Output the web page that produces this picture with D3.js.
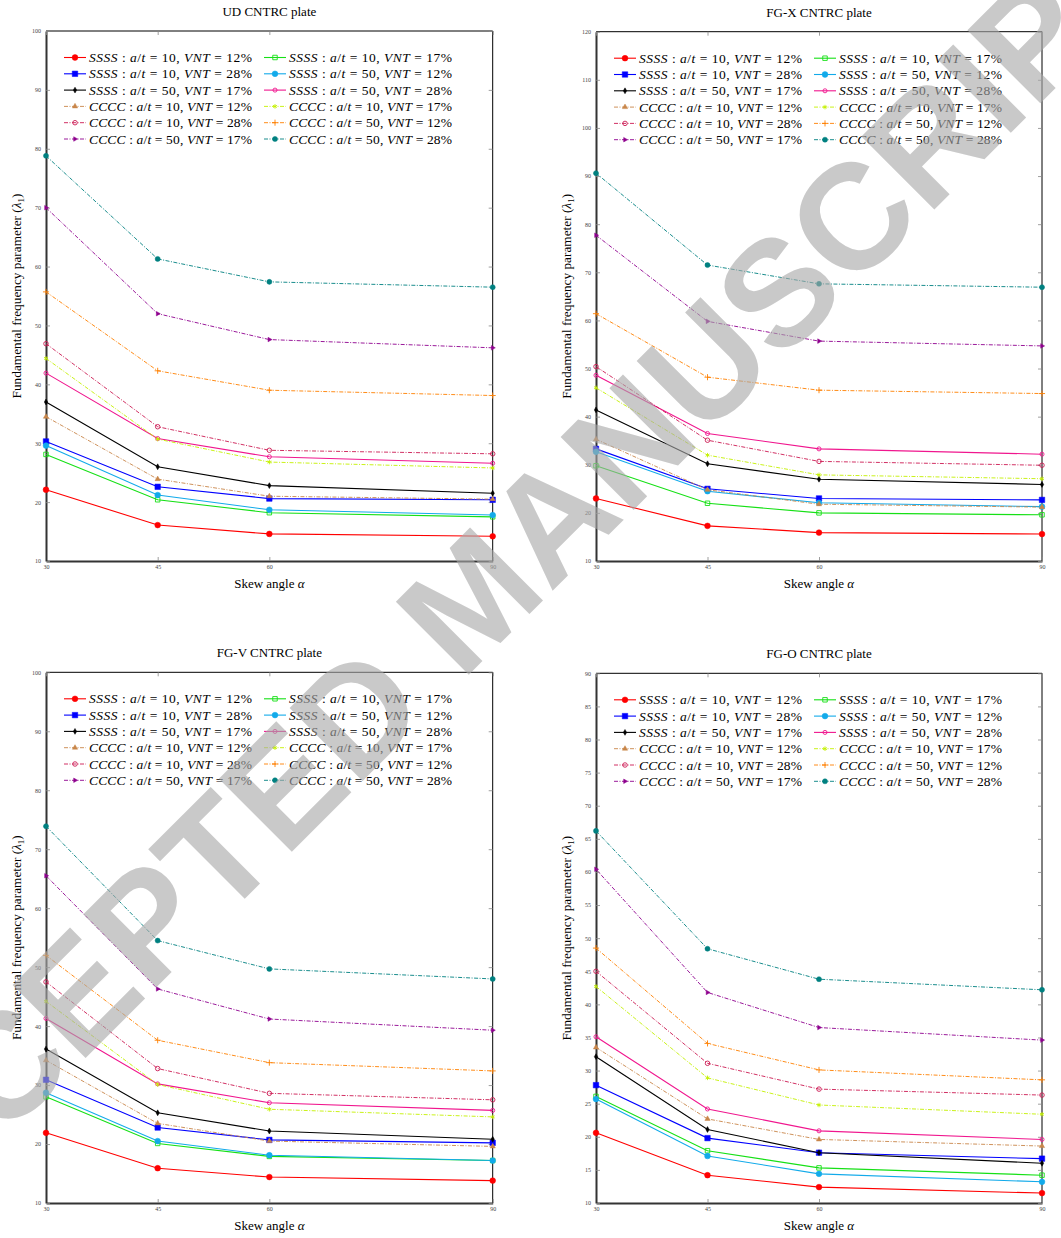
<!DOCTYPE html>
<html>
<head>
<meta charset="utf-8">
<script src="https://cdn.jsdelivr.net/npm/d3@7"></script>
<style>
body { margin: 0; background: #fff; }
svg { display: block; }
</style>
</head>
<body>
<svg id="chart"></svg>
<script>

// skew angles on the x axis
var skewAngles = [30, 45, 60, 90]

// the 12 cases (legend order, row by row)
var boundary = ["SSSS", "SSSS", "SSSS", "SSSS", "SSSS", "SSSS", "CCCC", "CCCC", "CCCC", "CCCC", "CCCC", "CCCC"]
var aspectRatio = ["10", "10", "10", "50", "50", "50", "10", "10", "10", "50", "50", "50"]
var vntLabels = ["12%", "17%", "28%", "12%", "17%", "28%", "12%", "17%", "28%", "12%", "17%", "28%"]

var panelTitles = ["UD CNTRC plate", "FG-X CNTRC plate", "FG-V CNTRC plate", "FG-O CNTRC plate"]

// fundamental frequency parameter, one row per case, columns = skewAngles
var udValues = [
    [22.1, 16.1, 14.6, 14.2],
    [28.1, 20.4, 18.2, 17.5],
    [30.3, 22.6, 20.6, 20.4],
    [29.6, 21.2, 18.7, 17.8],
    [37.0, 26.0, 22.8, 21.5],
    [41.9, 30.8, 27.7, 26.6],
    [34.5, 23.9, 21.0, 20.5],
    [44.4, 30.7, 26.8, 25.8],
    [46.9, 32.8, 28.8, 28.2],
    [55.7, 42.3, 39.0, 38.1],
    [70.0, 52.0, 47.6, 46.2],
    [78.8, 61.3, 57.4, 56.5]
]
var fgxValues = [
    [23.0, 17.3, 15.9, 15.6],
    [29.8, 22.0, 20.0, 19.6],
    [33.3, 25.0, 23.0, 22.7],
    [32.7, 24.5, 22.1, 21.3],
    [41.4, 30.2, 27.0, 25.9],
    [48.6, 36.5, 33.3, 32.2],
    [35.3, 24.8, 21.8, 21.2],
    [46.0, 32.0, 27.9, 27.1],
    [50.4, 35.1, 30.7, 29.9],
    [61.4, 48.2, 45.5, 44.8],
    [77.7, 59.8, 55.7, 54.7],
    [90.6, 71.5, 67.6, 66.9]
]
var fgvValues = [
    [21.9, 15.9, 14.4, 13.8],
    [28.0, 20.1, 17.9, 17.2],
    [30.9, 22.8, 20.7, 20.2],
    [28.7, 20.5, 18.1, 17.2],
    [36.1, 25.3, 22.2, 20.8],
    [41.3, 30.2, 27.0, 25.7],
    [34.2, 23.5, 20.5, 19.6],
    [44.2, 30.1, 25.9, 24.6],
    [47.5, 32.8, 28.6, 27.5],
    [52.0, 37.6, 33.8, 32.4],
    [65.5, 46.3, 41.2, 39.3],
    [73.9, 54.5, 49.7, 48.0]
]
var fgoValues = [
    [20.6, 14.2, 12.4, 11.5],
    [26.1, 17.9, 15.3, 14.2],
    [27.8, 19.8, 17.6, 16.7],
    [25.7, 17.1, 14.4, 13.2],
    [32.1, 21.1, 17.6, 16.0],
    [35.1, 24.2, 20.9, 19.6],
    [33.5, 22.7, 19.6, 18.6],
    [42.7, 28.9, 24.8, 23.4],
    [45.0, 31.1, 27.2, 26.3],
    [48.5, 34.1, 30.1, 28.6],
    [60.4, 41.8, 36.5, 34.6],
    [66.2, 48.4, 43.8, 42.2]
]

// y tick labels per panel
var udTicks = [10, 20, 30, 40, 50, 60, 70, 80, 90, 100]
var fgxTicks = [10, 20, 30, 40, 50, 60, 70, 80, 90, 100, 110, 120]
var fgvTicks = [10, 20, 30, 40, 50, 60, 70, 80, 90, 100]
var fgoTicks = [10, 15, 20, 25, 30, 35, 40, 45, 50, 55, 60, 65, 70, 75, 80, 85, 90]

var allValues = [udValues, fgxValues, fgvValues, fgoValues]
var allTicks = [udTicks, fgxTicks, fgvTicks, fgoTicks]

// look of each case
var styles = [
    {color: "#ff0000", dash: null, sym: d3.symbolCircle, size: 26, fill: true},
    {color: "#16e016", dash: null, sym: d3.symbolSquare, size: 20, fill: false},
    {color: "#0000ff", dash: null, sym: d3.symbolSquare, size: 30, fill: true},
    {color: "#12aaea", dash: null, sym: d3.symbolCircle, size: 26, fill: true},
    {color: "#000000", dash: null, sym: d3.symbolDiamond, size: 10, fill: true},
    {color: "#f0168e", dash: null, sym: d3.symbolCircle, size: 13, fill: false},
    {color: "#c8864a", dash: "4,1.5,1,1.5", sym: d3.symbolTriangle, size: 12, fill: true},
    {color: "#c4f000", dash: "4,1.5,1,1.5", sym: d3.symbolAsterisk, size: 14, fill: false},
    {color: "#cc1a52", dash: "4,1.5,1,1.5", sym: d3.symbolCircle, size: 16, fill: false},
    {color: "#ff8000", dash: "4,1.5,1,1.5", sym: d3.symbolPlus, size: 14, fill: false},
    {color: "#8e008e", dash: "4,1.5,1,1.5", sym: d3.symbolTriangle, size: 9, fill: true, rotate: 90},
    {color: "#008080", dash: "4,1.5,1,1.5", sym: d3.symbolCircle, size: 20, fill: true}
]

var dimensions = {width: 1061, height: 1238}

var panels = [
    {left: 46, top: 31, right: 492.7, bottom: 561},
    {left: 596, top: 31.7, right: 1042, bottom: 561},
    {left: 46, top: 672.3, right: 492.7, bottom: 1203},
    {left: 596, top: 673.3, right: 1042, bottom: 1203}
]

var svg = d3.select("#chart")
    .attr("width", dimensions.width)
    .attr("height", dimensions.height)
    .style("font-family", "'Liberation Serif', 'DejaVu Serif', serif")

function drawMarker(g, s, x, y) {
    var p = g.append("path")
        .attr("d", d3.symbol().type(s.sym).size(s.size)())
        .attr("transform", "translate(" + x + "," + y + ")" + (s.rotate ? " rotate(" + s.rotate + ")" : ""))
    if (s.fill) {
        p.attr("fill", s.color).attr("stroke", s.color).attr("stroke-width", 0.5)
    } else {
        p.attr("fill", "none").attr("stroke", s.color).attr("stroke-width", 0.9)
    }
}

panels.forEach(function (pn, k) {
    var values = allValues[k]
    var ticks = allTicks[k]
    var g = svg.append("g")

    var xScale = d3.scaleLinear()
        .domain([30, 90])
        .range([pn.left, pn.right])

    var yScale = d3.scaleLinear()
        .domain([ticks[0], ticks[ticks.length - 1]])
        .range([pn.bottom, pn.top])

    // plot frame (top/right thin, left/bottom heavy)
    g.append("line").attr("x1", pn.left).attr("x2", pn.right).attr("y1", pn.top).attr("y2", pn.top)
        .attr("stroke", "#000").attr("stroke-width", 1)
    g.append("line").attr("x1", pn.right).attr("x2", pn.right).attr("y1", pn.top).attr("y2", pn.bottom)
        .attr("stroke", "#000").attr("stroke-width", 1)

    var xAxisgen = d3.axisBottom(xScale).tickValues(skewAngles).tickSizeInner(-4).tickSizeOuter(0).tickPadding(4)
    var yAxisgen = d3.axisLeft(yScale).tickValues(ticks).tickSizeInner(-4).tickSizeOuter(0).tickPadding(5)
    var topAxisgen = d3.axisTop(xScale).tickValues(skewAngles).tickSizeInner(-4).tickSizeOuter(0).tickFormat("")
    var rightAxisgen = d3.axisRight(yScale).tickValues(ticks).tickSizeInner(-4).tickSizeOuter(0).tickFormat("")

    var axes = [
        g.append("g").attr("transform", "translate(0," + pn.bottom + ")").call(xAxisgen),
        g.append("g").attr("transform", "translate(" + pn.left + ",0)").call(yAxisgen),
        g.append("g").attr("transform", "translate(0," + pn.top + ")").call(topAxisgen),
        g.append("g").attr("transform", "translate(" + pn.right + ",0)").call(rightAxisgen)
    ]
    axes.forEach(function (a, i) {
        a.selectAll(".tick line").attr("stroke", "#888").attr("stroke-width", 0.8)
        a.selectAll(".tick text")
            .attr("fill", "#444")
            .style("font-size", "6px")
            .style("font-family", "'Liberation Serif', serif")
        if (i < 2) {
            a.select(".domain").attr("stroke", "#333").attr("stroke-width", 2)
        } else {
            a.select(".domain").remove()
        }
    })

    // series
    var lineGen = d3.line()
        .x(function (d, i) { return xScale(skewAngles[i]) })
        .y(function (d) { return yScale(d) })

    values.forEach(function (row, i) {
        var s = styles[i]
        g.append("path")
            .attr("d", lineGen(row))
            .attr("fill", "none")
            .attr("stroke", s.color)
            .attr("stroke-width", s.dash ? 0.9 : 1.1)
            .attr("stroke-dasharray", s.dash)
        row.forEach(function (v, j) {
            drawMarker(g, s, xScale(skewAngles[j]), yScale(v))
        })
    })

    // legend
    var leg = g.append("g")
    boundary.forEach(function (b, i) {
        var s = styles[i]
        var lx = pn.left + 18 + (i % 2) * 200
        var ly = pn.top + 26.5 + Math.floor(i / 2) * 16.3
        leg.append("line")
            .attr("x1", lx).attr("x2", lx + 22).attr("y1", ly).attr("y2", ly)
            .attr("stroke", s.color)
            .attr("stroke-width", s.dash ? 0.9 : 1.1)
            .attr("stroke-dasharray", s.dash)
        drawMarker(leg, s, lx + 11, ly)
        var t = leg.append("text")
            .attr("x", lx + 25)
            .attr("y", ly + 4.5)
            .attr("textLength", 163)
            .attr("lengthAdjust", "spacing")
            .style("font-size", "13.5px")
        t.append("tspan").style("font-style", "italic").text(b)
        t.append("tspan").text(" : ")
        t.append("tspan").style("font-style", "italic").text("a")
        t.append("tspan").text("/")
        t.append("tspan").style("font-style", "italic").text("t")
        t.append("tspan").text(" = " + aspectRatio[i] + ", ")
        t.append("tspan").style("font-style", "italic").text("VNT")
        t.append("tspan").text(" = " + vntLabels[i])
    })

    var cx = (pn.left + pn.right) / 2
    var cy = (pn.top + pn.bottom) / 2

    // title
    g.append("text")
        .attr("x", cx + 0)
        .attr("y", pn.top - 15)
        .attr("text-anchor", "middle")
        .style("font-size", "13px")
        .text(panelTitles[k])

    // x label
    var xl = g.append("text")
        .attr("x", cx)
        .attr("y", pn.bottom + 27)
        .attr("text-anchor", "middle")
        .style("font-size", "13px")
    xl.append("tspan").text("Skew angle ")
    xl.append("tspan").style("font-style", "italic").text("α")

    // y label
    var yl = g.append("text")
        .attr("transform", "translate(" + (pn.left - 25) + "," + cy + ") rotate(-90)")
        .attr("text-anchor", "middle")
        .style("font-size", "13.3px")
    yl.append("tspan").text("Fundamental frequency parameter (")
    yl.append("tspan").style("font-style", "italic").text("λ")
    yl.append("tspan").attr("dy", 2.5).style("font-size", "9px").text("1")
    yl.append("tspan").attr("dy", -2.5).text(")")
})

// watermark
svg.append("text")
    .attr("transform", "translate(472,598) rotate(-45)")
    .attr("text-anchor", "middle")
    .attr("dominant-baseline", "central")
    .style("font-family", "'Liberation Sans', Arial, sans-serif")
    .style("font-weight", "bold")
    .style("font-size", "150px")
    .attr("fill", "#a8a8a8")
    .attr("fill-opacity", 0.62)
    .text("ACCEPTED MANUSCRIPT")

</script>
</body>
</html>
